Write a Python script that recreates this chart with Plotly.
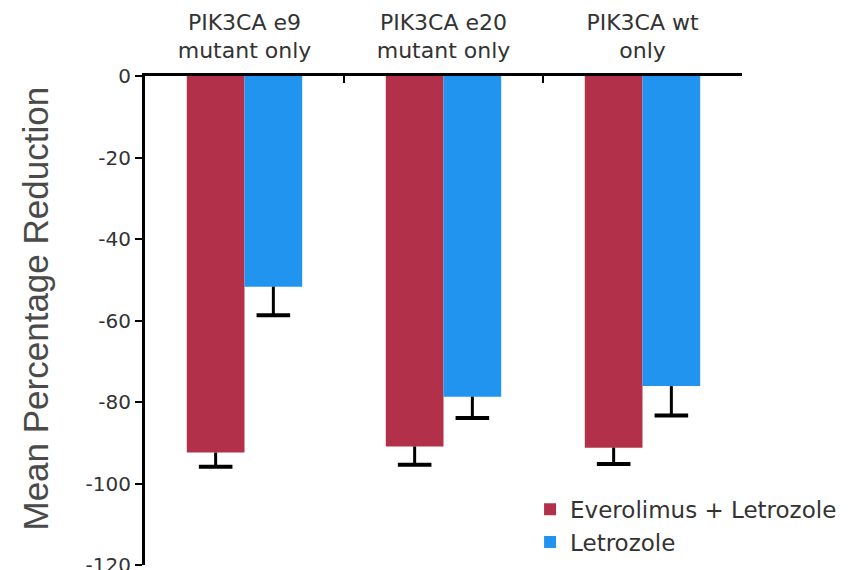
import plotly.graph_objects as go

categories = ["PIK3CA e9<br>mutant only", "PIK3CA e20<br>mutant only", "PIK3CA wt<br>only"]
combo_values = [-92.4, -90.9, -91.2]
combo_err = [3.5, 4.5, 4.0]
letrozole_values = [-51.7, -78.7, -76.1]
letrozole_err = [7.0, 5.2, 7.2]
y_ticks = [0, -20, -40, -60, -80, -100, -120]
y_tick_labels = ["0", "-20", "-40", "-60", "-80", "-100", "-120"]

RED = "#B3304B"
BLUE = "#2194F0"
FONT = "Liberation Sans, Arial, sans-serif"
WIDE_FONT = "DejaVu Sans, Verdana, sans-serif"
GAP = 0.42

series = [
    ("Everolimus + Letrozole", combo_values, combo_err, RED),
    ("Letrozole", letrozole_values, letrozole_err, BLUE),
]

fig = go.Figure()
for name, vals, errs, color in series:
    # bar with a cap-less downward stem
    fig.add_trace(go.Bar(
        x=categories, y=vals, name=name, legendgroup=name,
        marker=dict(color=color, line=dict(width=0)),
        error_y=dict(type="data", symmetric=False, array=[0] * len(vals), arrayminus=errs,
                     color="black", thickness=3, width=0),
    ))
for name, vals, errs, color in series:
    # cap at the lower end of each error bar
    fig.add_trace(go.Scatter(
        x=categories, y=[v - e for v, e in zip(vals, errs)], mode="markers",
        legendgroup=name, showlegend=False, hoverinfo="skip",
        marker=dict(symbol="line-ew", size=24, line=dict(color="black", width=4)),
    ))

fig.update_layout(
    width=859, height=570,
    margin=dict(l=145, r=117, t=76, b=5, autoexpand=False),
    paper_bgcolor="white", plot_bgcolor="white",
    barmode="group", bargap=GAP, bargroupgap=0,
    scattermode="group", scattergap=GAP,
    font=dict(family=FONT, color="#333"),
    legend=dict(x=0.645, y=0.158, xanchor="left", yanchor="top",
                font=dict(size=23, color="#333", family=WIDE_FONT), bgcolor="rgba(0,0,0,0)",
                tracegroupgap=0, itemwidth=30),
    showlegend=True,
    annotations=[dict(
        text="Mean Percentage Reduction", textangle=-90,
        xref="paper", yref="paper", x=-0.183, y=0.524,
        xanchor="center", yanchor="middle", showarrow=False,
        font=dict(size=35, color="#4a4a4a", family=FONT),
    )],
)
fig.update_xaxes(
    side="top", type="category", range=[-0.5, 2.5], automargin=False,
    showline=True, linecolor="black", linewidth=3,
    ticks="inside", tickson="boundaries", ticklen=7, tickwidth=2, tickcolor="black",
    tickfont=dict(size=22, color="#333", family=WIDE_FONT), showgrid=False, zeroline=False,
    ticklabelstandoff=6,
)
fig.update_yaxes(
    range=[-120, 0], tickvals=y_ticks, ticktext=y_tick_labels, automargin=False,
    showline=True, linecolor="black", linewidth=3,
    ticks="outside", ticklen=7, tickwidth=2, tickcolor="black",
    tickfont=dict(size=20, color="#333", family=WIDE_FONT), showgrid=False, zeroline=False,
    ticklabeloverflow="allow",
)

fig.write_html("out.html")
